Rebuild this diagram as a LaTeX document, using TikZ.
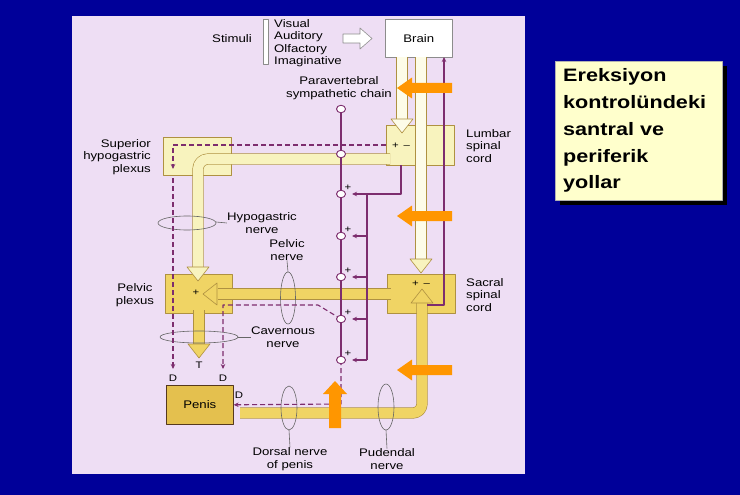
\documentclass[tikz,border=0pt]{standalone}
\usepackage{fontspec}
\newfontfamily\lab[FakeStretch=1.2]{Liberation Sans}
\usetikzlibrary{shapes.geometric,shadows,arrows.meta}
\definecolor{slide}{RGB}{0,0,153}
\definecolor{panel}{RGB}{238,222,244}
\definecolor{plum}{RGB}{125,45,110}
\definecolor{whiteY}{RGB}{253,252,232}
\definecolor{paleY}{RGB}{248,243,190}
\definecolor{goldY}{RGB}{240,212,100}
\definecolor{darkY}{RGB}{228,192,78}
\definecolor{edge}{RGB}{175,145,65}
\definecolor{orangeA}{RGB}{255,150,0}
\definecolor{noteY}{RGB}{255,255,204}
\tikzset{tiphead/.pic={\filldraw[pic actions] (-11,-14) -- (0,0) -- (11,-14) -- cycle;}}
\begin{document}
\begin{tikzpicture}[x=1pt,y=-1pt,line join=round,>={Stealth[length=5pt,width=4.5pt]},
  txt/.style={font=\lab\fontsize{11}{12.5}\selectfont,align=center,inner sep=0pt},
  small/.style={font=\lab\fontsize{9.5}{10}\selectfont,inner sep=0pt},
  box/.style={draw=edge,line width=0.6pt,anchor=north west,inner sep=0pt},
  gang/.style={ellipse,draw=plum,fill=white,line width=0.9pt,minimum width=9pt,minimum height=7.5pt,inner sep=0pt},
  nerve/.style={plum,line width=1.1pt},
  dnerve/.style={nerve,dash pattern=on 5pt off 3pt},
  chan/.style={draw=edge,line width=0.6pt,double distance=10pt},
  bundle/.style={draw=black!60,line width=0.6pt},
  note/.style={fill=noteY,draw=black!30,anchor=north west,align=left,inner xsep=8pt,
    font=\lab\bfseries\fontsize{18}{26.8}\selectfont,
    drop shadow={shadow xshift=5pt,shadow yshift=-5pt,opacity=1,fill=black}}]
\useasboundingbox (0,0) rectangle (740,495);
\fill[slide] (0,0) rectangle (740,495);
\fill[panel] (72,16) rectangle (525,474);
% note box
\node[note,text width=151pt,minimum height=139pt] (note) at (555,61) {Ereksiyon\\kontrolündeki\\santral ve\\periferik\\yollar};
% stimuli
\node[txt] (stim) at (232,39) {Stimuli};
\filldraw[fill=white,draw=black!45,line width=0.6pt] (263,19) rectangle (268,64);
\node[txt,align=left,anchor=north west] (kinds) at (274,19) {Visual\\Auditory\\Olfactory\\Imaginative};
\filldraw[fill=white,draw=black!45,line width=0.6pt] (343,34) -- (360,34) -- (360,28) -- (372,38.5) -- (360,49) -- (360,43) -- (343,43) -- cycle;
% boxes
\node[box,txt,draw=black!45,fill=white,minimum width=67pt,minimum height=38pt] (brain) at (385,19) {Brain};
\node[box,fill=paleY,minimum width=68pt,minimum height=40pt] (lumbar) at (386,125) {};
\node[box,fill=goldY,minimum width=68pt,minimum height=39pt] (sacral) at (387,274) {};
\node[box,fill=paleY,minimum width=68pt,minimum height=38pt] (sup) at (163,137) {};
\node[box,fill=goldY,minimum width=67pt,minimum height=39pt] (pelplex) at (165,274) {};
\node[box,txt,fill=darkY,draw=black!55!brown,minimum width=67pt,minimum height=39pt] (penis) at (166,385) {Penis};
% channels
\draw[chan,double=whiteY] (402,57) -- (402,120);
\pic[fill=whiteY,draw=edge,line width=0.6pt] at (402,133) {tiphead};
\draw[chan,double=whiteY] (421,57) -- (421,260);
\pic[fill=paleY,draw=edge,line width=0.6pt] at (421,273) {tiphead};
\draw[chan,double=paleY,rounded corners=10pt] (390,159) -- (198,159) -- (198,268);
\pic[fill=paleY,draw=edge,line width=0.6pt] at (198,281) {tiphead};
\draw[chan,double=goldY] (391,294) -- (218,294);
\pic[fill=goldY,draw=edge,line width=0.6pt,rotate=-90] at (203,294) {tiphead};
\draw[chan,double=goldY] (199,310) -- (199,346);
\pic[fill=goldY,draw=edge,line width=0.6pt] at (199,358) {tiphead};
\draw[chan,double=goldY,rounded corners=9pt] (240,413) -- (422,413) -- (422,302);
\pic[fill=goldY,draw=edge,line width=0.6pt,rotate=180] at (422,289) {tiphead};
\node[small] at (401,146) {+ \,–};
\node[small] at (421,284) {+ \,–};
\node[small] at (196,293) {+};
% nerve bundles
\draw[bundle] (187,223) ellipse [x radius=29pt,y radius=7pt];
\node[txt] (hyp) at (262,223) {Hypogastric\\nerve};
\draw[bundle] (216,222) -- (hyp.west);
\draw[bundle] (288,298) ellipse [x radius=7.5pt,y radius=26pt];
\node[txt] (pn) at (287,250) {Pelvic\\nerve};
\draw[bundle] (288,272) -- (pn.south);
\draw[bundle] (199,337) ellipse [x radius=39pt,y radius=6pt];
\node[txt] (cav) at (283,337) {Cavernous\\nerve};
\draw[bundle] (238,337) -- (cav.west);
\draw[bundle] (289,408) ellipse [x radius=8pt,y radius=22pt];
\node[txt] (dors) at (290,459) {Dorsal nerve\\of penis};
\draw[bundle] (289,430) -- (dors.north);
\draw[bundle] (386,407) ellipse [x radius=8pt,y radius=23pt];
\node[txt] (pud) at (387,459) {Pudendal\\nerve};
\draw[bundle] (386,430) -- (pud.north);
% labels
\node[txt] (para) at (339,88) {Paravertebral\\sympathetic chain};
\node[txt,align=right,anchor=east] (suplab) at (151,157) {Superior\\hypogastric\\plexus};
\node[txt] (pplab) at (135,295) {Pelvic\\plexus};
\node[txt,align=left,anchor=west] (lumlab) at (466,146) {Lumbar\\spinal\\cord};
\node[txt,align=left,anchor=west] (saclab) at (466,295) {Sacral\\spinal\\cord};
% sympathetic chain
\foreach \n/\y in {1/109,2/154,3/194,4/236,5/277,6/319,7/360}
  \coordinate (c\n) at (341,\y);
\draw[nerve] (c1) -- (c7);
\draw[nerve,->] (401,165) -- (401,194) -- (352,194);
\draw[nerve] (367,194) -- (367,360);
\foreach \y in {236,277,319,360}
  \draw[nerve,->] (367,\y) -- (352,\y);
\draw[nerve,->] (427,305) -- (444,305) -- (444,57);
\draw[dnerve,->] (386,145) -- (173,145) -- (173,169);
\draw[dnerve,->] (173,178) -- (173,369);
\draw[dnerve,->] (c6) -- (318,305) -- (223,305) -- (223,369);
\draw[dnerve,->] (c7) -- (341,404) -- (penis.east);
\foreach \n in {1,...,7}
  \node[gang] (g\n) at (c\n) {};
\foreach \n in {3,...,7}
  \node[small] at ([xshift=7pt,yshift=6pt]g\n) {+};
\node[small] at (173,378) {D};
\node[small] at (223,378) {D};
\node[small] at (239,395) {D};
\node[small] at (199,365) {T};
% orange pointers
\foreach \y in {88,216,370}
  \fill[orangeA] (452,\y-5) -- (412,\y-5) -- (412,\y-10.5) -- (397,\y) -- (412,\y+10.5) -- (412,\y+5) -- (452,\y+5) -- cycle;
\fill[orangeA] (329,428) -- (329,394) -- (323,394) -- (335,381) -- (347,394) -- (341,394) -- (341,428) -- cycle;
\end{tikzpicture}
\end{document}
